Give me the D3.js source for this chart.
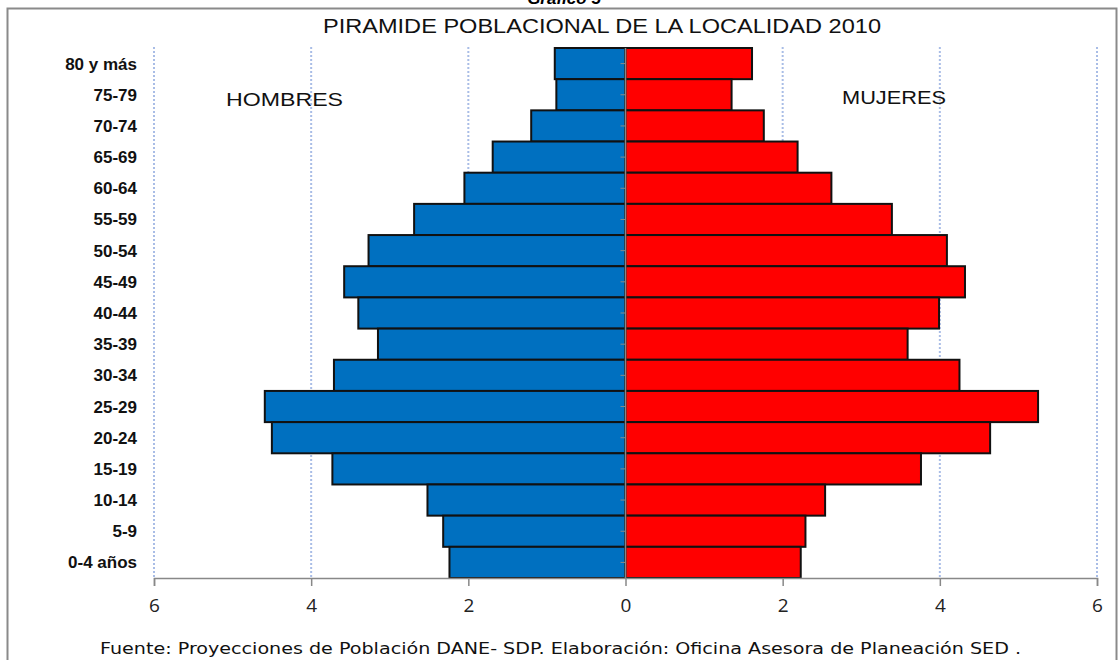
<!DOCTYPE html>
<html>
<head>
<meta charset="utf-8">
<script src="https://cdn.jsdelivr.net/npm/d3@7"></script>
<style>
  body { margin: 0; background: #fff; }
  svg { display: block; }
</style>
</head>
<body>
<div id="svgcontainer"></div>
<script>
(function() {

    // age groups, top to bottom as drawn
    var categories = ['80 y más', '75-79', '70-74', '65-69', '60-64', '55-59', '50-54', '45-49',
        '40-44', '35-39', '30-34', '25-29', '20-24', '15-19', '10-14', '5-9', '0-4 años']
    var hombres = [0.90, 0.88, 1.20, 1.69, 2.05, 2.69, 3.27, 3.58, 3.40, 3.15, 3.71, 4.59, 4.50, 3.73, 2.52, 2.32, 2.24]
    var mujeres = [1.61, 1.35, 1.76, 2.19, 2.62, 3.39, 4.09, 4.32, 3.99, 3.59, 4.25, 5.25, 4.64, 3.76, 2.54, 2.29, 2.23]
    var xTicks = [-6, -4, -2, 0, 2, 4, 6]

    var width = 1119, height = 660
    var svg = d3.select('#svgcontainer').append('svg')
        .attr('width', width)
        .attr('height', height)

    // outer frame
    svg.append('rect')
        .attr('x', 7.5).attr('y', 8.5)
        .attr('width', 1109).attr('height', 700)
        .attr('fill', 'none')
        .attr('stroke', '#8a8a8a')
        .attr('stroke-width', 2)

    // cut off caption above the frame
    svg.append('text')
        .attr('x', 564).attr('y', 4)
        .attr('text-anchor', 'middle')
        .attr('font-family', 'Liberation Sans, Arial, sans-serif')
        .attr('font-weight', 'bold')
        .attr('font-style', 'italic')
        .attr('font-size', 17)
        .text('Gráfico 5')

    svg.append('text')
        .attr('x', 602).attr('y', 33)
        .attr('text-anchor', 'middle')
        .attr('font-family', 'Liberation Sans Narrow, Liberation Sans, sans-serif')
        .attr('font-size', 20)
        .attr('textLength', 558)
        .attr('lengthAdjust', 'spacingAndGlyphs')
        .attr('fill', '#111')
        .text('PIRAMIDE POBLACIONAL DE LA LOCALIDAD 2010')

    var x = d3.scaleLinear().domain([-6, 6]).range([154, 1097])
    var y = d3.scaleBand().domain(categories).range([48, 578]).padding(0)

    // dotted grid
    svg.append('g').selectAll('line')
        .data(xTicks.filter(function(d) { return d !== 0 }))
        .enter().append('line')
        .attr('x1', function(d) { return x(d) })
        .attr('x2', function(d) { return x(d) })
        .attr('y1', 47).attr('y2', 578)
        .attr('stroke', '#a9bde6')
        .attr('stroke-width', 2)
        .attr('stroke-dasharray', '2,2')

    var bars = svg.append('g')

    bars.selectAll('rect.h')
        .data(categories)
        .enter().append('rect')
        .attr('class', 'h')
        .attr('x', function(d, i) { return x(-hombres[i]) })
        .attr('y', function(d) { return y(d) })
        .attr('width', function(d, i) { return x(0) - x(-hombres[i]) })
        .attr('height', y.bandwidth())
        .attr('fill', '#0070c0')
        .attr('stroke', '#111')
        .attr('stroke-width', 2)

    bars.selectAll('rect.m')
        .data(categories)
        .enter().append('rect')
        .attr('class', 'm')
        .attr('x', x(0))
        .attr('y', function(d) { return y(d) })
        .attr('width', function(d, i) { return x(mujeres[i]) - x(0) })
        .attr('height', y.bandwidth())
        .attr('fill', '#ff0000')
        .attr('stroke', '#111')
        .attr('stroke-width', 2)

    // center axis with small ticks
    svg.append('line')
        .attr('x1', x(0)).attr('x2', x(0))
        .attr('y1', 48).attr('y2', 578)
        .attr('stroke', '#888')
        .attr('stroke-width', 1.5)
    svg.append('g').selectAll('line')
        .data(categories)
        .enter().append('line')
        .attr('x1', x(0) - 5).attr('x2', x(0))
        .attr('y1', function(d) { return y(d) + y.bandwidth() / 2 })
        .attr('y2', function(d) { return y(d) + y.bandwidth() / 2 })
        .attr('stroke', '#888')

    // bottom axis
    var xAxis = d3.axisBottom(x)
        .tickValues(xTicks)
        .tickSize(8)
        .tickFormat(function(d) { return Math.abs(d) })
    var ax = svg.append('g')
        .attr('transform', 'translate(0,578)')
        .call(xAxis)
    ax.select('.domain').attr('stroke', '#888').attr('stroke-width', 1.5)
    ax.selectAll('.tick line').attr('stroke', '#888').attr('stroke-width', 1.5)
    ax.selectAll('.tick text')
        .attr('y', 21)
        .attr('font-family', 'Open Sans, sans-serif')
        .attr('font-size', 19)
        .attr('fill', '#222')

    // category labels
    svg.append('g').selectAll('text')
        .data(categories)
        .enter().append('text')
        .attr('x', 137)
        .attr('y', function(d) { return y(d) + y.bandwidth() / 2 + 6 })
        .attr('text-anchor', 'end')
        .attr('font-family', 'Liberation Sans Narrow, Liberation Sans, sans-serif')
        .attr('font-weight', 'bold')
        .attr('font-size', 17)
        .attr('fill', '#111')
        .text(function(d) { return d })

    svg.append('text')
        .attr('x', 226).attr('y', 106)
        .attr('font-family', 'Liberation Sans, sans-serif')
        .attr('font-size', 18)
        .attr('textLength', 117)
        .attr('lengthAdjust', 'spacingAndGlyphs')
        .attr('fill', '#111')
        .text('HOMBRES')

    svg.append('text')
        .attr('x', 842).attr('y', 104)
        .attr('font-family', 'Liberation Sans, sans-serif')
        .attr('font-size', 18)
        .attr('textLength', 104)
        .attr('lengthAdjust', 'spacingAndGlyphs')
        .attr('fill', '#111')
        .text('MUJERES')

    svg.append('text')
        .attr('x', 100).attr('y', 654)
        .attr('font-family', 'DejaVu Sans, sans-serif')
        .attr('font-size', 16)
        .attr('textLength', 921)
        .attr('lengthAdjust', 'spacingAndGlyphs')
        .attr('fill', '#111')
        .text('Fuente: Proyecciones de Población DANE- SDP. Elaboración: Oficina Asesora de Planeación SED .')

})()
</script>
</body>
</html>
